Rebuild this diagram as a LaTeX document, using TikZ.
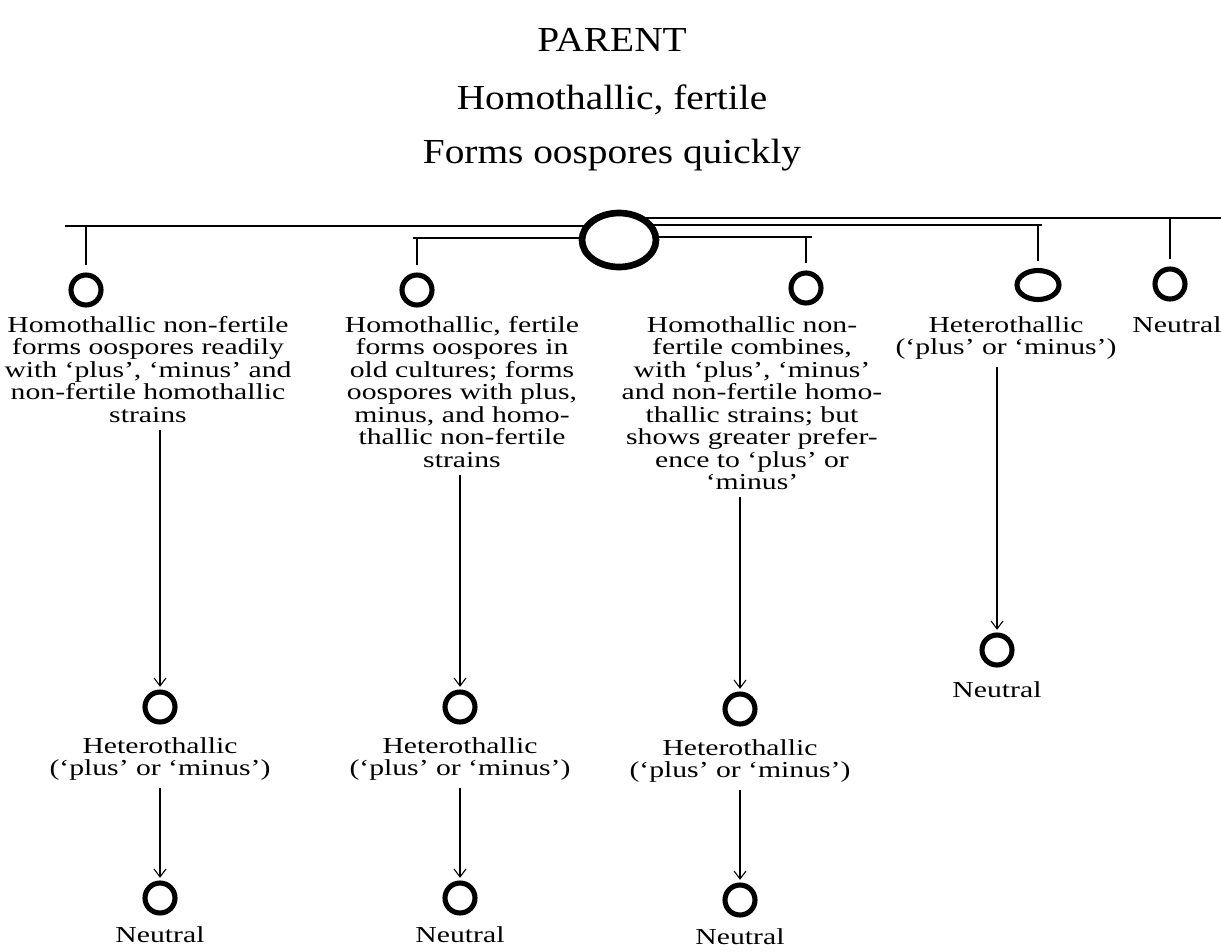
\documentclass[tikz,border=0pt]{standalone}
\usepackage{fontspec}
\setmainfont[FakeStretch=1.3]{Liberation Serif}
\newfontfamily\headfamily[FakeStretch=1.12]{Liberation Serif}
\usetikzlibrary{positioning, shapes.geometric, arrows.meta}

\newcommand\bodyfont{\fontsize{13}{12.8}\selectfont}
\newcommand\headfont{\headfamily\fontsize{20}{22}\selectfont}

\begin{document}
\begin{tikzpicture}[x=0.02cm, y=-0.02cm,
  ring/.style = {ellipse, draw, line width=2.9pt, minimum width=0.6cm,
                 minimum height=0.6cm, inner sep=0pt},
  bigring/.style = {ring, line width=3.8pt, minimum width=1.48cm, minimum height=1.08cm},
  wide ring/.style = {ring, minimum width=0.84cm, minimum height=0.58cm},
  note/.style = {align=center, inner sep=0pt, anchor=north, font=\bodyfont},
  head/.style = {inner sep=0pt, font=\headfont},
  branch/.style = {line width=1.1pt},
  descent/.style = {line width=0.6pt, -{Straight Barb[length=1.6mm, width=2.4mm]},
                    shorten <=4pt, shorten >=1.5pt}]
\useasboundingbox (0,0) rectangle (1221,951);

% parent
\node[head] (title) at (612,40) {PARENT};
\node[head] (kind)  at (612,100) {Homothallic, fertile};
\node[head] (habit) at (612,155) {Forms oospores quickly};
\node[bigring] (parent) at (619,240) {};

% first generation
\node[ring] (r1) at (86,290) {};
\node[ring] (r2) at (417,290) {};
\node[ring] (r3) at (806,288) {};
\node[wide ring] (r4) at (1038,285) {};
\node[ring] (r5) at (1170,284) {};

\coordinate (bl1) at (65,226);
\coordinate (bl2) at (413,238);
\coordinate (br1) at (812,237);
\coordinate (br2) at (1042,225);
\coordinate (br3) at (1221,218);

\draw[branch] (bl1) -- (bl1 -| parent.155);
\draw[branch] (bl2) -- (bl2 -| parent.west);
\draw[branch] (br1) -- (br1 -| parent.east);
\draw[branch] (br2) -- (br2 -| parent.28);
\draw[branch] (br3) -- (br3 -| parent.50);
\draw[branch, shorten >=4pt] (bl1 -| r1) -- (r1);
\draw[branch, shorten >=4pt] (bl2 -| r2) -- (r2);
\draw[branch, shorten >=4pt] (br1 -| r3) -- (r3);
\draw[branch, shorten >=4pt] (br2 -| r4) -- (r4);
\draw[branch, shorten >=4pt] (br3 -| r5) -- (r5);

\node[note] (n1) at (148,316) {Homothallic non-fertile\\forms oospores readily\\
  with ‘plus’, ‘minus’ and\\non-fertile homothallic\\strains};
\node[note] (n2) at (462,316) {Homothallic, fertile\\forms oospores in\\
  old cultures; forms\\oospores with plus,\\minus, and homo-\\
  thallic non-fertile\\strains};
\node[note] (n3) at (752,316) {Homothallic non-\\fertile combines,\\
  with ‘plus’, ‘minus’\\and non-fertile homo-\\thallic strains; but\\
  shows greater prefer-\\ence to ‘plus’ or\\‘minus’};
\node[note] (n4) at (1006,316) {Heterothallic\\(‘plus’ or ‘minus’)};
\node[note] (n5) at (1177,316) {Neutral};

% second generation
\node[ring] (h1) at (160,707) {};
\node[ring] (h2) at (460,707) {};
\node[ring] (h3) at (740,709) {};
\node[ring] (z4) at (997,650) {};
\node[note] (t1) [below = 7pt of h1] {Heterothallic\\(‘plus’ or ‘minus’)};
\node[note] (t2) [below = 7pt of h2] {Heterothallic\\(‘plus’ or ‘minus’)};
\node[note] (t3) [below = 7pt of h3] {Heterothallic\\(‘plus’ or ‘minus’)};
\node[note] (e4) [below = 8pt of z4] {Neutral};

\draw[descent] (n1.south -| h1) -- (h1);
\draw[descent] (n2.south -| h2) -- (h2);
\draw[descent] (n3.south -| h3) -- (h3);
\draw[descent] (n4.south -| z4) -- (z4);

% third generation
\node[ring] (z1) at (160,898) {};
\node[ring] (z2) at (460,898) {};
\node[ring] (z3) at (740,900) {};
\node[note] (e1) [below = 6pt of z1] {Neutral};
\node[note] (e2) [below = 6pt of z2] {Neutral};
\node[note] (e3) [below = 6pt of z3] {Neutral};

\draw[descent] (t1.south -| z1) -- (z1);
\draw[descent] (t2.south -| z2) -- (z2);
\draw[descent] (t3.south -| z3) -- (z3);
\end{tikzpicture}
\end{document}
